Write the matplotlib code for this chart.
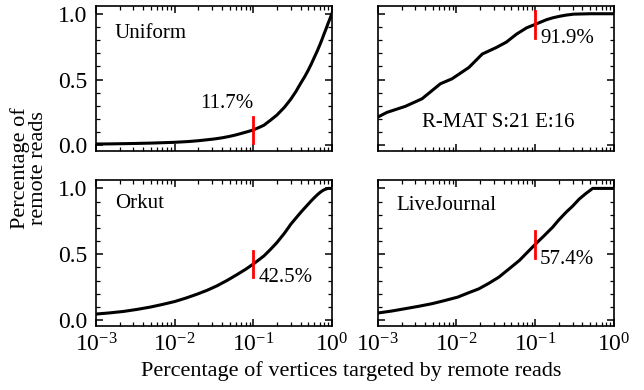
import numpy as np
import matplotlib
matplotlib.use("Agg")
import matplotlib.pyplot as plt
from matplotlib.ticker import MultipleLocator, LogLocator, NullFormatter

plt.rcParams["font.family"] = "serif"
plt.rcParams["font.serif"] = ["Liberation Serif", "DejaVu Serif"]
plt.rcParams["mathtext.fontset"] = "stix"
plt.rcParams["axes.linewidth"] = 1.2

# curves: fraction of vertices -> fraction of remote reads
uniform_x = [0.001, 0.0015, 0.003, 0.005, 0.01, 0.015, 0.02, 0.0316, 0.04, 0.05, 0.06,
             0.07, 0.085, 0.1, 0.12, 0.137, 0.165, 0.2, 0.25, 0.3, 0.35, 0.4, 0.45,
             0.5, 0.55, 0.6, 0.65, 0.7, 0.75, 0.8, 0.85, 0.9, 0.95, 1.0]
uniform_y = [0.010, 0.011, 0.014, 0.017, 0.023, 0.029, 0.035, 0.048, 0.057, 0.068, 0.079,
             0.090, 0.104, 0.117, 0.137, 0.153, 0.19, 0.23, 0.29, 0.35, 0.41, 0.47, 0.52,
             0.57, 0.62, 0.67, 0.715, 0.76, 0.805, 0.85, 0.89, 0.93, 0.965, 1.0]

rmat_x = [0.001, 0.0013, 0.00223, 0.00365, 0.00625, 0.0088, 0.0144, 0.0213, 0.032,
          0.043, 0.058, 0.078, 0.1, 0.14, 0.17, 0.21, 0.25, 0.31, 0.5, 1.0]
rmat_y = [0.215, 0.25, 0.296, 0.354, 0.468, 0.506, 0.592, 0.694, 0.743,
          0.784, 0.845, 0.893, 0.919, 0.955, 0.97, 0.982, 0.99, 0.997, 1.0, 1.0]

orkut_x = [0.001, 0.0015, 0.00224, 0.0033, 0.0049, 0.007, 0.01, 0.014, 0.0193, 0.026,
           0.0347, 0.047, 0.063, 0.08, 0.1, 0.115, 0.137, 0.165, 0.2, 0.25, 0.3, 0.35,
           0.4, 0.45, 0.5, 0.55, 0.6, 0.65, 0.7, 0.75, 0.8, 0.85, 0.9, 1.0]
orkut_y = [0.045, 0.054, 0.065, 0.080, 0.098, 0.118, 0.14, 0.167, 0.196, 0.226,
           0.26, 0.302, 0.347, 0.385, 0.425, 0.452, 0.487, 0.535, 0.588, 0.66, 0.727, 0.775,
           0.816, 0.85, 0.88, 0.907, 0.93, 0.95, 0.967, 0.98, 0.99, 0.996, 1.0, 1.0]

lj_x = [0.001, 0.0015, 0.00223, 0.0033, 0.0049, 0.007, 0.0104, 0.014, 0.0193, 0.026,
        0.0347, 0.047, 0.063, 0.08, 0.1, 0.13, 0.167, 0.2, 0.247, 0.3, 0.364, 0.44,
        0.54, 0.7, 1.0]
lj_y = [0.053, 0.068, 0.086, 0.104, 0.124, 0.147, 0.174, 0.205, 0.237, 0.28,
        0.326, 0.39, 0.452, 0.515, 0.574, 0.64, 0.705, 0.76, 0.818, 0.865, 0.919, 0.96,
        1.0, 1.0, 1.0]

names = ["Uniform", "R-MAT S:21 E:16", "Orkut", "LiveJournal"]
marks = [0.117, 0.919, 0.425, 0.574]
mark_labels = ["11.7%", "91.9%", "42.5%", "57.4%"]

fig, axes = plt.subplots(2, 2, figsize=(6.44, 3.9), dpi=100, sharex=True, sharey=True)
fig.subplots_adjust(left=0.149, right=0.953, top=0.985, bottom=0.164,
                    wspace=0.195, hspace=0.2)

series = [(uniform_x, uniform_y), (rmat_x, rmat_y), (orkut_x, orkut_y), (lj_x, lj_y)]
fs = 15

for i, ax in enumerate(axes.flat):
    x, y = series[i]
    ax.plot(x, y, color="k", linewidth=2.2, solid_joinstyle="round")
    ax.plot([0.1, 0.1], [marks[i] - 0.1, marks[i] + 0.1], color="red", linewidth=2)
    ax.set_xscale("log")
    ax.set_xlim(1e-3, 1)
    ax.set_ylim(-0.046, 1.06)
    ax.yaxis.set_major_locator(MultipleLocator(0.5))
    ax.yaxis.set_minor_locator(MultipleLocator(0.1))
    ax.xaxis.set_major_locator(LogLocator(base=10, numticks=10))
    ax.xaxis.set_minor_locator(LogLocator(base=10, subs=np.arange(2, 10), numticks=10))
    ax.xaxis.set_minor_formatter(NullFormatter())
    ax.tick_params(which="both", direction="in", top=True, right=True, labelsize=17)
    ax.tick_params(axis="y", pad=6)
    ax.tick_params(axis="x", pad=5)
    ax.tick_params(which="major", length=5, width=1.1)
    ax.tick_params(which="minor", length=3, width=0.9)

# panel names
axes[0, 0].text(0.08, 0.81, names[0], transform=axes[0, 0].transAxes, fontsize=fs, va="center")
axes[0, 1].text(0.51, 0.175, names[1], fontsize=fs, ha="center", va="center",
                transform=axes[0, 1].get_yaxis_transform())
axes[1, 0].text(0.08, 0.84, names[2], transform=axes[1, 0].transAxes, fontsize=fs, va="center")
axes[1, 1].text(0.08, 0.83, names[3], transform=axes[1, 1].transAxes, fontsize=fs, va="center")

# percentage labels
axes[0, 0].text(0.1, 0.32, mark_labels[0], fontsize=fs, ha="right", va="center")
axes[0, 1].text(0.116, 0.815, mark_labels[1], fontsize=fs, ha="left", va="center")
axes[1, 0].text(0.116, 0.32, mark_labels[2], fontsize=fs, ha="left", va="center")
axes[1, 1].text(0.116, 0.46, mark_labels[3], fontsize=fs, ha="left", va="center")

fig.text(0.545, 0.022, "Percentage of vertices targeted by remote reads", fontsize=16,
         ha="center", va="bottom")
fig.text(0.045, 0.57, "Percentage of\nremote reads", fontsize=16, rotation=90,
         ha="center", va="center", linespacing=0.9)

fig.savefig("out.png", dpi=100)
